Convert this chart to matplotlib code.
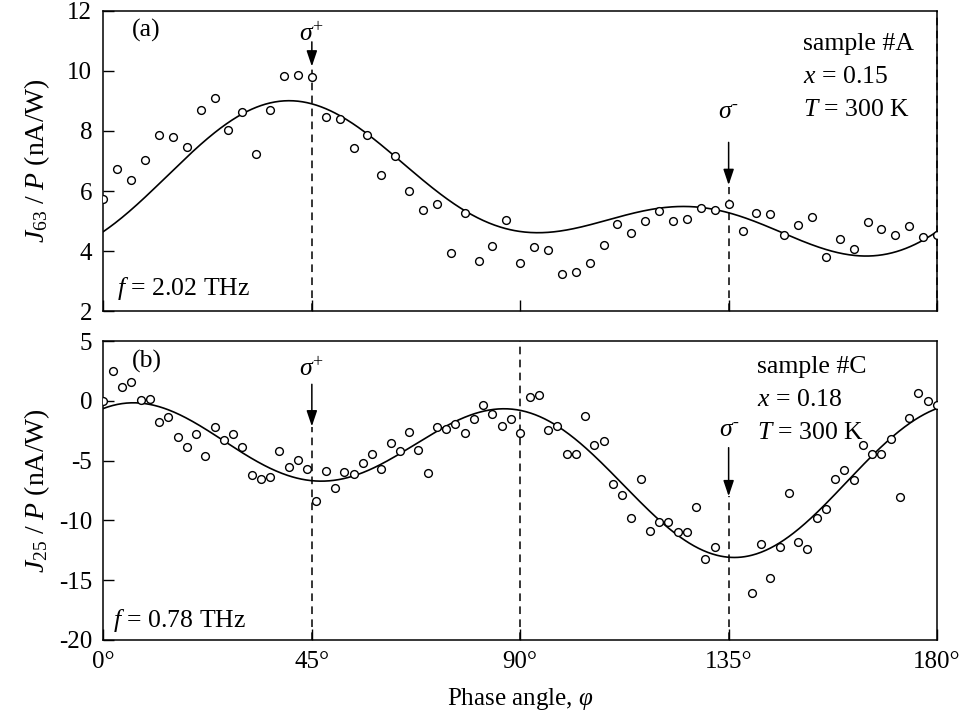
import numpy as np
import matplotlib
matplotlib.use("Agg")
import matplotlib.pyplot as plt

plt.rcParams.update({
    "font.family": ["Liberation Serif", "DejaVu Serif"],
    "mathtext.fontset": "custom",
    "mathtext.rm": "Liberation Serif",
    "mathtext.it": "Liberation Serif:italic",
    "mathtext.bf": "Liberation Serif:bold",
    "axes.linewidth": 1.1,
    "axes.unicode_minus": False,
})

# ---- panel (a): sample #A, f = 2.02 THz -------------------------------
phi_a = [0, 3, 6, 9, 12, 15, 18, 21, 24, 27,
         30, 33, 36, 39, 42, 45, 48, 51, 54, 57,
         60, 63, 66, 69, 72, 75, 78, 81, 84, 87,
         90, 93, 96, 99, 102, 105, 108, 111, 114, 117,
         120, 123, 126, 129, 132, 135, 138, 141, 144, 147,
         150, 153, 156, 159, 162, 165, 168, 171, 174, 177,
         180]
j63 = [5.72, 6.74, 6.36, 7.04, 7.87, 7.79, 7.46, 8.70, 9.09, 8.04,
       8.64, 7.23, 8.69, 9.82, 9.87, 9.79, 8.46, 8.39, 7.42, 7.87,
       6.52, 7.18, 5.99, 5.37, 5.57, 3.94, 5.26, 3.68, 4.16, 5.02,
       3.60, 4.13, 4.03, 3.23, 3.31, 3.60, 4.19, 4.89, 4.60, 5.01,
       5.32, 5.01, 5.06, 5.43, 5.36, 5.58, 4.67, 5.28, 5.22, 4.52,
       4.88, 5.13, 3.81, 4.41, 4.08, 4.98, 4.73, 4.52, 4.83, 4.46,
       4.52]
# fit: J0 + Jc sin2phi + Jd cos2phi + JL1 sin4phi + JL2 cos4phi
fit_a = {"J0": 5.87, "Jc": 1.815, "Jd": 0.0, "JL1": 0.60, "JL2": -1.22}

# ---- panel (b): sample #C, f = 0.78 THz -------------------------------
phi_b = [0, 2, 4, 6, 8, 10, 12, 14, 16, 18,
         20, 22, 24, 26, 28, 30, 32, 34, 36, 38,
         40, 42, 44, 46, 48, 50, 52, 54, 56, 58,
         60, 62, 64, 66, 68, 70, 72, 74, 76, 78,
         80, 82, 84, 86, 88, 90, 92, 94, 96, 98,
         100, 102, 104, 106, 108, 110, 112, 114, 116, 118,
         120, 122, 124, 126, 128, 130, 132, 140, 142, 144,
         146, 148, 150, 152, 154, 156, 158, 160, 162, 164,
         166, 168, 170, 172, 174, 176, 178, 180]
j25 = [0.00, 2.50, 1.13, 1.58, 0.04, 0.15, -1.78, -1.38, -3.06, -3.84,
       -2.81, -4.63, -2.16, -3.25, -2.81, -3.87, -6.19, -6.55, -6.35, -4.23,
       -5.57, -4.99, -5.72, -8.34, -5.88, -7.28, -5.99, -6.08, -5.21, -4.46,
       -5.68, -3.54, -4.17, -2.58, -4.12, -6.02, -2.16, -2.36, -1.91, -2.70,
       -1.55, -0.38, -1.13, -2.08, -1.52, -2.72, 0.35, 0.46, -2.42, -2.11,
       -4.43, -4.43, -1.24, -3.67, -3.34, -6.92, -7.84, -9.82, -6.58, -10.91,
       -10.13, -10.13, -10.94, -10.94, -8.90, -13.20, -12.20, -16.10, -11.94, -14.82,
       -12.22, -7.70, -11.83, -12.39, -9.79, -9.01, -6.52, -5.80, -6.66, -3.73,
       -4.46, -4.46, -3.17, -8.06, -1.41, 0.63, 0.02, -0.32]
fit_b = {"J0": -5.30, "Jc": 3.20, "Jd": 0.08, "JL1": 0.50, "JL2": 4.58}

xticks = [0, 45, 90, 135, 180]
xticklabels = ["0°", "45°", "90°", "135°", "180°"]
yticks_a = [2, 4, 6, 8, 10, 12]
yticks_b = [-20, -15, -10, -5, 0, 5]


def fit_curve(p, phi):
    r = np.deg2rad(phi)
    return (p["J0"] + p["Jc"] * np.sin(2 * r) + p["Jd"] * np.cos(2 * r)
            + p["JL1"] * np.sin(4 * r) + p["JL2"] * np.cos(4 * r))


TICK_FS = 18
TEXT_FS = 18.5
DASH = (0, (5, 3.5))

fig = plt.figure(figsize=(9.66, 7.17), dpi=100)
ax1 = fig.add_axes([0.1071, 0.5662, 0.8629, 0.4185])
ax2 = fig.add_axes([0.1071, 0.1074, 0.8629, 0.4170])

phi_dense = np.linspace(0, 180, 721)

for ax, phi, j, fit in ((ax1, phi_a, j63, fit_a), (ax2, phi_b, j25, fit_b)):
    ax.plot(phi_dense, fit_curve(fit, phi_dense), color="black", lw=1.2, zorder=3)
    ax.plot(phi, j, ls="none", marker="o", ms=5.6, mfc="white", mec="black",
            mew=1.0, zorder=4)
    ax.set_xlim(0, 180)
    ax.set_xticks(xticks)
    ax.tick_params(direction="in", length=8, width=1.0, top=False, right=False,
                   labelsize=TICK_FS, pad=8)

ax1.set_ylim(2, 12)
ax1.set_yticks(yticks_a)
ax1.tick_params(labelbottom=False)
ax2.set_ylim(-20, 5)
ax2.set_yticks(yticks_b)
ax2.set_xticklabels(xticklabels)
ax2.set_xlabel(r"Phase angle, $\varphi$", fontsize=TICK_FS, labelpad=9)

ax1.set_ylabel(r"$J_{63}$ / $P$ (nA/W)", fontsize=20)
ax2.set_ylabel(r"$J_{25}$ / $P$ (nA/W)", fontsize=20)
ax1.yaxis.set_label_coords(-0.062, 0.5)
ax2.yaxis.set_label_coords(-0.062, 0.5)


def arrow(ax, x, y0, y1):
    ax.annotate("", xy=(x, y1), xytext=(x, y0),
                arrowprops=dict(arrowstyle="-|>,head_length=0.95,head_width=0.32",
                                mutation_scale=10, color="black", lw=1.1,
                                shrinkA=0, shrinkB=0), zorder=5)


# panel (a) markers
ax1.vlines(45, 2, 10.1, colors="black", linestyles=[DASH], lw=1.1, zorder=2)
ax1.vlines(135, 2, 6.15, colors="black", linestyles=[DASH], lw=1.1, zorder=2)
ax1.vlines(180, 2, 12, colors="black", linestyles=[DASH], lw=1.1, zorder=2,
           clip_on=False)
arrow(ax1, 45, 10.97, 10.15)
arrow(ax1, 135, 7.62, 6.2)
ax1.text(45, 10.83, r"$\sigma^{+}$", ha="center", va="bottom", fontsize=TEXT_FS)
ax1.text(135, 8.28, r"$\sigma^{\text{-}}$", ha="center", va="bottom", fontsize=TEXT_FS)

ax1.text(0.034, 0.975, "(a)", transform=ax1.transAxes, ha="left", va="top",
         fontsize=TEXT_FS)
ax1.text(0.016, 0.055, r"$f$ = 2.02 THz", transform=ax1.transAxes, ha="left",
         va="baseline", fontsize=TEXT_FS)
ax1.text(0.839, 0.928, "sample #A", transform=ax1.transAxes, ha="left",
         va="top", fontsize=TEXT_FS)
ax1.text(0.839, 0.815, r"$x$ = 0.15", transform=ax1.transAxes, ha="left",
         va="top", fontsize=TEXT_FS)
ax1.text(0.839, 0.705, r"$T$ = 300 K", transform=ax1.transAxes, ha="left",
         va="top", fontsize=TEXT_FS)

# panel (b) markers
ax2.vlines(45, -20, -2.2, colors="black", linestyles=[DASH], lw=1.1, zorder=2)
ax2.vlines(90, -20, 5, colors="black", linestyles=[DASH], lw=1.1, zorder=2)
ax2.vlines(135, -20, -8.0, colors="black", linestyles=[DASH], lw=1.1, zorder=2)
arrow(ax2, 45, 1.38, -2.14)
arrow(ax2, 135, -3.92, -7.98)
ax2.text(45, 1.65, r"$\sigma^{+}$", ha="center", va="bottom", fontsize=TEXT_FS)
ax2.text(135.2, -3.35, r"$\sigma^{\text{-}}$", ha="center", va="bottom", fontsize=TEXT_FS)

ax2.text(0.034, 0.97, "(b)", transform=ax2.transAxes, ha="left", va="top",
         fontsize=TEXT_FS)
ax2.text(0.012, 0.045, r"$f$ = 0.78 THz", transform=ax2.transAxes, ha="left",
         va="baseline", fontsize=TEXT_FS)
ax2.text(0.784, 0.95, "sample #C", transform=ax2.transAxes, ha="left",
         va="top", fontsize=TEXT_FS)
ax2.text(0.784, 0.84, r"$x$ = 0.18", transform=ax2.transAxes, ha="left",
         va="top", fontsize=TEXT_FS)
ax2.text(0.784, 0.73, r"$T$ = 300 K", transform=ax2.transAxes, ha="left",
         va="top", fontsize=TEXT_FS)

fig.savefig("out.png", dpi=100)
